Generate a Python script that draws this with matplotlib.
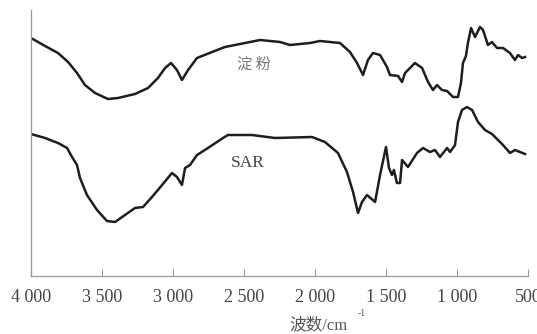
import matplotlib
matplotlib.use("Agg")
import matplotlib.pyplot as plt

plt.rcParams['font.family'] = ['Liberation Serif', 'Noto Sans CJK SC', 'DejaVu Sans']

# Wavenumbers (cm^-1) and relative transmittance (arbitrary units)
starch_wn = [4000, 3901, 3810, 3739, 3676, 3620, 3549, 3458, 3387, 3268, 3176, 3106,
             3056, 3014, 2972, 2937, 2894, 2831, 2725, 2634, 2387, 2246, 2176, 2035,
             1965, 1824, 1754, 1704, 1662, 1627, 1592, 1542, 1493, 1472, 1415, 1387,
             1366, 1296, 1246, 1204, 1169, 1141, 1106, 1070, 1028, 993, 972, 958, 937,
             923, 901, 873, 838, 817, 782, 754, 718, 676, 627, 592, 570, 542, 521]
starch_t = [238, 230, 223, 214, 203, 191, 183, 177, 178, 182, 188, 198,
            208, 213, 206, 196, 206, 218, 224, 229, 236, 234, 231, 233,
            235, 233, 224, 213, 201, 216, 223, 221, 209, 201, 200, 194,
            203, 213, 208, 194, 186, 191, 186, 185, 179, 179, 193, 213, 220,
            233, 248, 239, 249, 246, 231, 234, 228, 228, 223, 216, 221, 218, 219]

sar_wn = [4000, 3901, 3810, 3746, 3711, 3676, 3655, 3606, 3535, 3465, 3408, 3338,
          3268, 3211, 3148, 3077, 3007, 2972, 2937, 2915, 2880, 2831, 2754, 2648,
          2613, 2444, 2282, 2021, 1930,
          1838, 1775, 1732, 1697, 1669, 1634, 1577, 1542, 1500, 1479, 1458, 1444,
          1423, 1401, 1387, 1345, 1282, 1239, 1190, 1155, 1120, 1070, 1049, 1014,
          993, 965, 930, 894, 852, 803, 754, 711, 676, 627, 592, 521]
sar_t = [142, 138, 133, 128, 119, 111, 98, 81, 66, 55, 54, 61,
         68, 69, 79, 91, 103, 99, 91, 108, 111, 121, 128, 138,
         141, 141, 138, 139, 134,
         123, 104, 84, 63, 74, 81, 74, 101, 129, 108, 101, 106,
         93, 93, 116, 109, 123, 128, 124, 126, 119, 128, 124, 131,
         154, 166, 169, 166, 154, 146, 142, 136, 131, 123, 126, 122]

xticks = [4000, 3500, 3000, 2500, 2000, 1500, 1000, 500]
xticklabels = ["4 000", "3 500", "3 000", "2 500", "2 000", "1 500", "1 000", "500"]
label_starch = "淀 粉"
label_sar = "SAR"

fig = plt.figure(figsize=(5.37, 3.34), dpi=100)
ax = fig.add_axes([31/537, (334-276)/334, (528-31)/537, (276-10)/334])

line_color = '#1e1e1e'
ax.plot(starch_wn, starch_t, color=line_color, lw=1.8, solid_joinstyle='round')
ax.plot(sar_wn, sar_t, color=line_color, lw=1.8, solid_joinstyle='round')

ax.set_xlim(4000, 500)
ax.set_ylim(0, 266)

for s in ['top', 'right']:
    ax.spines[s].set_visible(False)
for s in ['left', 'bottom']:
    ax.spines[s].set_color('#999999')
    ax.spines[s].set_linewidth(0.9)

ax.set_xticks(xticks)
ax.set_xticklabels(xticklabels, fontsize=13, color='#444444')
ax.tick_params(axis='x', direction='in', length=5, color='#999999', width=0.8, pad=9)
ax.set_yticks([])

ax.text(2430, 212, label_starch, fontsize=11, color='#777777', ha='center', va='center',
        family=['Noto Sans CJK SC'])
ax.text(2470, 113, label_sar, fontsize=12.5, color='#444444', ha='center', va='center')

fig.text(318/537, 1 - 325/334, "波数/cm", fontsize=12, color='#555555', ha='center', va='center')
fig.text(362/537, 1 - 313/334, "-1", fontsize=7, color='#555555', ha='center', va='center')

fig.savefig("out.png", dpi=100, facecolor='white')
